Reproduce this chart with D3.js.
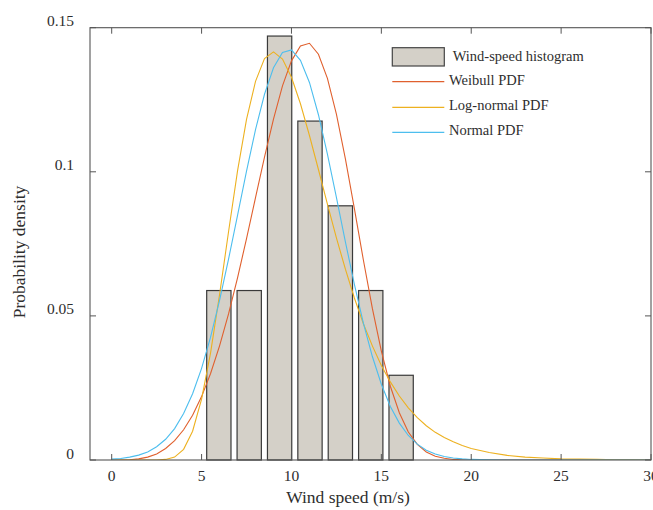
<!DOCTYPE html>
<html>
<head>
<meta charset="utf-8">
<script src="https://cdn.jsdelivr.net/npm/d3@7"></script>
<style>
  html, body { margin: 0; padding: 0; background: #ffffff; }
  svg { display: block; }
  text { font-family: "Liberation Serif", "Times New Roman", serif; fill: #2e2e2e; }
</style>
</head>
<body>
<svg id="chart" width="653" height="510"></svg>
<script>
// ---- data ----
const binCenters = [5.96, 7.65, 9.34, 11.03, 12.72, 14.41, 16.10];
const binDensity = [0.0588, 0.0588, 0.1471, 0.1176, 0.0882, 0.0588, 0.0294];

const curveX = [0,0.5,1,1.5,2,2.5,3,3.5,4,4.5,5,5.5,6,6.5,7,7.5,8,8.5,9,9.5,10,10.5,11,11.5,12,12.5,13,13.5,14,14.5,15,15.5,16,16.5,17,17.5,18,18.5,19,19.5,20,21,22,23,24,25,26,27,28,29,30];
const weibullPdf = [0,0.00001,0.0001,0.00038,0.0010,0.0021,0.0040,0.0067,0.0105,0.0155,0.0220,0.0300,0.0396,0.0507,0.0632,0.0768,0.0910,0.1051,0.1183,0.1298,0.1385,0.1437,0.1446,0.1408,0.1324,0.1200,0.1045,0.0872,0.0694,0.0526,0.0378,0.0256,0.0164,0.0097,0.0054,0.0028,0.0013,0.0006,0.0002,0.0001,0,0,0,0,0,0,0,0,0,0,0];
const lognormalPdf = [0,0,0,0,0,0.00002,0.0002,0.0010,0.0037,0.0100,0.0211,0.0372,0.0574,0.0792,0.1003,0.1182,0.1314,0.1393,0.1416,0.1391,0.1328,0.1236,0.1126,0.1008,0.0888,0.0771,0.0662,0.0562,0.0473,0.0396,0.0328,0.0271,0.0222,0.0181,0.0147,0.0119,0.0096,0.0078,0.0063,0.0050,0.0040,0.0026,0.0016,0.0010,0.0007,0.0004,0.0003,0.0002,0.0001,0.0001,0];
const normalPdf = [0.0003,0.0005,0.0010,0.0017,0.0028,0.0046,0.0072,0.0109,0.0161,0.0230,0.0318,0.0426,0.0554,0.0697,0.0849,0.1002,0.1146,0.1269,0.1361,0.1414,0.1423,0.1387,0.1310,0.1198,0.1061,0.0911,0.0757,0.0609,0.0475,0.0359,0.0263,0.0186,0.0128,0.0085,0.0055,0.0034,0.0021,0.0012,0.0007,0.0004,0.0002,0.0001,0,0,0,0,0,0,0,0,0];

const xTicks = [0, 5, 10, 15, 20, 25, 30];
const yTicks = [0, 0.05, 0.1, 0.15];
const yTickLabels = ["0", "0.05", "0.1", "0.15"];
const legendLabels = ["Wind-speed histogram", "Weibull PDF", "Log-normal PDF", "Normal PDF"];
const curveColors = ["#E0602E", "#EDB120", "#4DBEEE"];

// ---- layout ----
const pL = 90, pR = 651, pT = 27.7, pB = 460;
const svg = d3.select("#chart");

const x = d3.scaleLinear().domain([0, 30]).range([111.7, 651]);
const y = d3.scaleLinear().domain([0, 0.15]).range([pB, pT]);

svg.append("defs").append("clipPath").attr("id", "clip")
  .append("rect").attr("x", pL).attr("y", pT).attr("width", pR - pL).attr("height", pB - pT);

// bars
const binStep = binCenters[1] - binCenters[0];
const barW = binStep * 0.8;
svg.append("g").selectAll("rect").data(binCenters).join("rect")
  .attr("x", d => x(d - barW / 2))
  .attr("width", d => x(d + barW / 2) - x(d - barW / 2))
  .attr("y", (d, i) => y(binDensity[i]))
  .attr("height", (d, i) => y(0) - y(binDensity[i]))
  .attr("fill", "#d4d0c8")
  .attr("stroke", "#3a3a3a")
  .attr("stroke-width", 1.2);

// curves
const series = [weibullPdf, lognormalPdf, normalPdf];
const line = d3.line().x((d, i) => x(curveX[i])).y(d => y(d));
const cg = svg.append("g").attr("clip-path", "url(#clip)");
series.forEach((s, k) => {
  cg.append("path").datum(s).attr("d", line)
    .attr("fill", "none").attr("stroke", curveColors[k]).attr("stroke-width", 1.1);
});

// axes box
const axisColor = "#555";
svg.append("rect").attr("x", pL).attr("y", pT).attr("width", pR - pL).attr("height", pB - pT)
  .attr("fill", "none").attr("stroke", axisColor).attr("stroke-width", 1.1);

// x ticks (bottom + top, inward)
const tl = 6;
const xg = svg.append("g");
xTicks.forEach(t => {
  xg.append("line").attr("x1", x(t)).attr("x2", x(t)).attr("y1", pB).attr("y2", pB - tl).attr("stroke", axisColor);
  xg.append("line").attr("x1", x(t)).attr("x2", x(t)).attr("y1", pT).attr("y2", pT + tl).attr("stroke", axisColor);
  xg.append("text").attr("x", x(t)).attr("y", 481).attr("text-anchor", "middle")
    .attr("font-size", "15.5px").text(t);
});
// y ticks
const yg = svg.append("g");
yTicks.forEach((t, i) => {
  yg.append("line").attr("x1", pL).attr("x2", pL + tl).attr("y1", y(t)).attr("y2", y(t)).attr("stroke", axisColor);
  yg.append("line").attr("x1", pR).attr("x2", pR - tl).attr("y1", y(t)).attr("y2", y(t)).attr("stroke", axisColor);
  yg.append("text").attr("x", 74).attr("y", y(t) - 1.5).attr("text-anchor", "end")
    .attr("font-size", "15.5px").text(yTickLabels[i]);
});

// axis titles
svg.append("text").attr("x", 348).attr("y", 503).attr("text-anchor", "middle")
  .attr("font-size", "17.5px").text("Wind speed (m/s)");
svg.append("text").attr("transform", "translate(25,252) rotate(-90)").attr("text-anchor", "middle")
  .attr("font-size", "17.5px").text("Probability density");

// legend
const lg = svg.append("g");
lg.append("rect").attr("x", 392.3).attr("y", 47.7).attr("width", 52).attr("height", 18.3)
  .attr("fill", "#d4d0c8").attr("stroke", "#444").attr("stroke-width", 1.2);
lg.append("text").attr("x", 452.7).attr("y", 60.5).attr("font-size", "14.5px").text(legendLabels[0]);
[81.7, 107.3, 132.3].forEach((ly, k) => {
  lg.append("line").attr("x1", 392.3).attr("x2", 444.3).attr("y1", ly).attr("y2", ly)
    .attr("stroke", curveColors[k]).attr("stroke-width", 1.2);
  lg.append("text").attr("x", 449).attr("y", ly + 3).attr("font-size", "14.5px").text(legendLabels[k + 1]);
});
</script>
</body>
</html>
